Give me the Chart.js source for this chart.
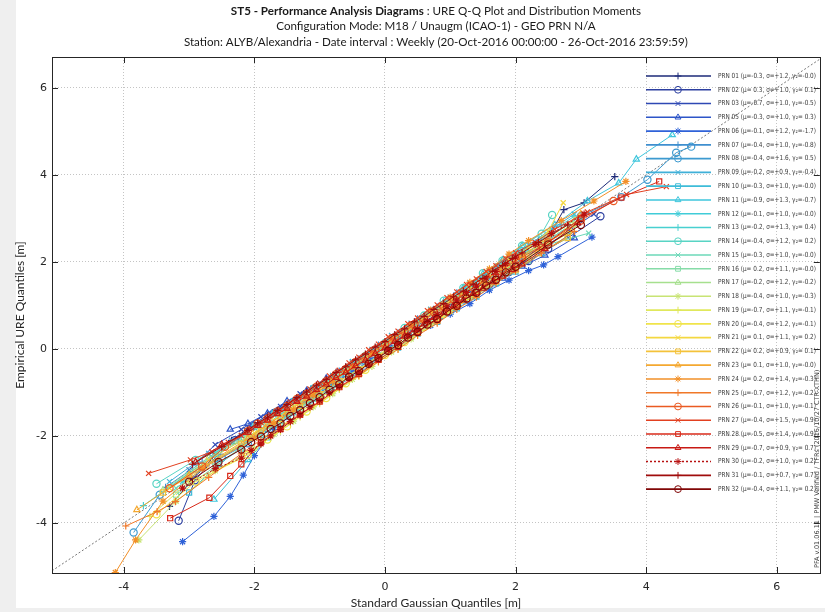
<!DOCTYPE html>
<html>
<head>
<meta charset="utf-8">
<title>URE Q-Q Plot</title>
<script src="https://cdn.jsdelivr.net/npm/chart.js@4.4.1/dist/chart.umd.min.js"></script>
<style>
    html, body { margin: 0; padding: 0; background: #ffffff; }
    #wrap { width: 825px; height: 612px; position: relative; }
</style>
</head>
<body>
<div id="wrap"><canvas id="qqChart" width="825" height="612"></canvas></div>
<script>
// Axis ranges and ticks
const xLimits = [-5.10, 6.66];
const yLimits = [-5.15, 6.71];
const xTickValues = [-4, -2, 0, 2, 4, 6];
const yTickValues = [-4, -2, 0, 2, 4, 6];

// Legend text: PRN number and distribution moments
const prnIds = ['01', '02', '03', '05', '06', '07', '08', '09', '10', '11', '12', '13', '14', '15', '16',
    '17', '18', '19', '20', '21', '22', '23', '24', '25', '26', '27', '28', '29', '30', '31', '32'];
const prnMu = ['-0.3', ' 0.3', '-0.7', '-0.3', '-0.1', '-0.4', '-0.4', '-0.2', '-0.3', '-0.9', '-0.1', '-0.2', '-0.4', '-0.3', ' 0.2',
    '-0.2', '-0.4', '-0.7', '-0.4', ' 0.1', ' 0.2', ' 0.1', ' 0.2', '-0.7', '-0.1', '-0.4', '-0.5', '-0.7', '-0.2', '-0.1', '-0.4'];
const prnSigma = ['+1.2', '+1.0', '+1.0', '+1.0', '+1.2', '+1.0', '+1.6', '+0.9', '+1.0', '+1.3', '+1.0', '+1.3', '+1.2', '+1.0', '+1.1',
    '+1.2', '+1.0', '+1.1', '+1.2', '+1.1', '+0.9', '+1.0', '+1.4', '+1.2', '+1.0', '+1.5', '+1.4', '+0.9', '+1.0', '+0.7', '+1.1'];
const prnGamma2 = ['-0.0', ' 0.1', '-0.5', ' 0.3', '-1.7', '-0.8', ' 0.5', '-0.4', '-0.0', '-0.7', '-0.0', ' 0.4', ' 0.2', '-0.0', '-0.0',
    '-0.2', '-0.3', '-0.1', '-0.1', ' 0.2', ' 0.1', '-0.0', '-0.3', '-0.2', '-0.1', '-0.9', '-0.9', ' 0.7', ' 0.2', ' 0.7', ' 0.2'];
const prnColors = ['#1c2a78', '#2c3fa0', '#2e48b4', '#2d55c8', '#2f62d8', '#3f8fcf', '#3d9ad0', '#3fb0d8', '#3ebcd8', '#3ec6dc',
    '#40ccd8', '#48d0d0', '#58d4c4', '#6cd8b8', '#86dca8', '#a6e08e', '#c8e474', '#e0e85c', '#f0e44a', '#f4d840', '#f4c23a',
    '#f4a830', '#f29028', '#f07828', '#ea5a22', '#e24020', '#d82a1a', '#c81a14', '#b81010', '#a00c0c', '#800606'];

// Theoretical (standard gaussian) quantiles of the central part, staggered sets
const gridA = [-2.1, -1.8, -1.5, -1.2, -0.9, -0.6, -0.3, 0, 0.3, 0.6, 0.9, 1.2, 1.5, 1.8, 2.1];
const gridB = [-2.0, -1.7, -1.4, -1.1, -0.8, -0.5, -0.2, 0.1, 0.4, 0.7, 1.0, 1.3, 1.6, 1.9, 2.2];
const gridC = [-2.2, -1.9, -1.6, -1.3, -1.0, -0.7, -0.4, -0.1, 0.2, 0.5, 0.8, 1.1, 1.4, 1.7, 2.0];
const gridD = [-2.1, -1.95, -1.8, -1.65, -1.5, -1.35, -1.2, -1.05, -0.9, -0.75, -0.6, -0.45, -0.3, -0.15, 0,
    0.15, 0.3, 0.45, 0.6, 0.75, 0.9, 1.05, 1.2, 1.35, 1.5, 1.65, 1.8, 1.95, 2.1];
const gridE = [-2.2, -2.05, -1.9, -1.75, -1.6, -1.45, -1.3, -1.15, -1.0, -0.85, -0.7, -0.55, -0.4, -0.25, -0.1,
    0.05, 0.2, 0.35, 0.5, 0.65, 0.8, 0.95, 1.1, 1.25, 1.4, 1.55, 1.7, 1.85, 2.0];

// Empirical quantiles per PRN: low tail [x, y], central y on its grid, high tail [x, y]
const prn01 = { grid: gridA, low: [[-3.3, -3.62], [-2.95, -3.0], [-2.6, -2.45], [-2.35, -2.1]],
    core: [-1.83, -1.52, -1.27, -0.96, -0.72, -0.42, -0.17, 0.13, 0.39, 0.68, 0.94, 1.23, 1.49, 1.79, 2.04],
    high: [[2.45, 2.42], [2.74, 3.2], [3.05, 3.36], [3.52, 3.96]] };
const prn02 = { grid: gridB, low: [[-3.16, -3.95], [-2.91, -3.02], [-2.6, -2.5], [-2.3, -2.1]],
    core: [-1.77, -1.47, -1.22, -0.93, -0.68, -0.39, -0.14, 0.15, 0.40, 0.69, 0.94, 1.23, 1.48, 1.77, 2.02],
    high: [[2.5, 2.3], [2.85, 2.6], [3.3, 3.05]] };
const prn03 = { grid: gridC, low: [[-3.0, -2.78], [-2.6, -2.2]],
    core: [-1.85, -1.56, -1.32, -1.03, -0.79, -0.51, -0.26, 0.02, 0.27, 0.55, 0.79, 1.08, 1.32, 1.61, 1.85],
    high: [[2.35, 2.25], [2.8, 2.7], [3.2, 3.1]] };
const prn05 = { grid: gridA, low: [[-2.37, -1.85]],
    core: [-1.72, -1.48, -1.20, -0.96, -0.68, -0.45, -0.17, 0.07, 0.35, 0.59, 0.86, 1.10, 1.38, 1.62, 1.90],
    high: [[2.45, 2.15], [2.9, 2.55]] };
const prn06 = { grid: gridB, low: [[-3.1, -4.43], [-2.62, -3.85], [-2.37, -3.39], [-2.17, -2.9]],
    core: [-2.45, -1.85, -1.45, -1.10, -0.82, -0.52, -0.24, 0.02, 0.28, 0.54, 0.80, 1.04, 1.35, 1.58, 1.80],
    high: [[2.43, 1.93], [2.65, 2.12], [3.17, 2.57]] };
const prn07 = { grid: gridC, low: [[-3.36, -3.18], [-2.8, -2.6], [-2.5, -2.3]],
    core: [-2.03, -1.70, -1.43, -1.11, -0.83, -0.51, -0.23, 0.09, 0.37, 0.69, 0.97, 1.29, 1.57, 1.89, 2.17],
    high: [[2.35, 2.5], [2.7, 2.85]] };
const prn08 = { grid: gridA, low: [[-3.85, -4.22], [-3.45, -3.35], [-2.9, -2.75], [-2.5, -2.5]],
    core: [-2.17, -1.83, -1.54, -1.20, -0.91, -0.57, -0.28, 0.06, 0.36, 0.69, 0.99, 1.32, 1.62, 1.95, 2.25],
    high: [[2.5, 2.6], [3.0, 3.05], [3.62, 3.49], [4.02, 3.89], [4.46, 4.51], [4.69, 4.65]] };
const prn09 = { grid: gridB, low: [[-3.3, -3.05], [-2.7, -2.4], [-2.35, -2.1]],
    core: [-1.81, -1.49, -1.21, -0.89, -0.61, -0.29, -0.01, 0.31, 0.59, 0.91, 1.19, 1.51, 1.79, 2.11, 2.39],
    high: [[2.55, 2.75], [2.9, 3.1]] };
const prn10 = { grid: gridC, low: [[-3.0, -3.3], [-2.55, -2.65]],
    core: [-2.29, -1.98, -1.71, -1.40, -1.13, -0.82, -0.55, -0.24, 0.03, 0.35, 0.62, 0.93, 1.20, 1.51, 1.78],
    high: [[2.4, 2.2], [2.8, 2.6]] };
const prn11 = { grid: gridA, low: [[-2.62, -3.46]],
    core: [-2.55, -2.05, -1.52, -1.19, -0.87, -0.55, -0.22, 0.10, 0.42, 0.75, 1.07, 1.40, 1.72, 2.04, 2.37],
    high: [[2.6, 2.85], [3.1, 3.4], [3.58, 3.81], [3.85, 4.36], [4.4, 4.92]] };
const prn12 = { grid: gridB, low: [[-3.1, -3.05], [-2.6, -2.4]],
    core: [-1.76, -1.46, -1.19, -0.89, -0.62, -0.32, -0.05, 0.26, 0.52, 0.83, 1.09, 1.40, 1.66, 1.97, 2.23],
    high: [[2.5, 2.5], [3.0, 3.0]] };
const prn13 = { grid: gridC, low: [[-3.7, -3.6], [-3.0, -2.85], [-2.6, -2.45]],
    core: [-2.11, -1.83, -1.50, -1.22, -0.89, -0.60, -0.28, 0.01, 0.33, 0.62, 0.95, 1.23, 1.56, 1.84, 2.17],
    high: [[2.4, 2.55], [2.9, 3.05]] };
const prn14 = { grid: gridA, low: [[-3.5, -3.1], [-2.9, -2.55]],
    core: [-2.05, -1.75, -1.42, -1.12, -0.79, -0.49, -0.16, 0.14, 0.48, 0.77, 1.11, 1.40, 1.74, 2.03, 2.37],
    high: [[2.4, 2.65], [2.56, 3.08]] };
const prn15 = { grid: gridB, low: [[-3.2, -3.2], [-2.55, -2.5]],
    core: [-2.05, -1.74, -1.47, -1.16, -0.89, -0.58, -0.30, 0.01, 0.28, 0.59, 0.86, 1.17, 1.44, 1.75, 2.02],
    high: [[2.5, 2.4], [3.12, 2.66]] };
const prn16 = { grid: gridC, low: [[-3.2, -3.35], [-2.6, -2.7]],
    core: [-2.26, -1.94, -1.66, -1.34, -1.06, -0.74, -0.46, -0.14, 0.14, 0.46, 0.74, 1.06, 1.34, 1.66, 1.94],
    high: [[2.4, 2.4], [2.85, 2.85]] };
const prn17 = { grid: gridA, low: [[-3.4, -3.25], [-2.7, -2.5]],
    core: [-1.97, -1.65, -1.38, -1.07, -0.79, -0.48, -0.20, 0.11, 0.38, 0.70, 0.97, 1.29, 1.56, 1.87, 2.15],
    high: [[2.45, 2.5], [2.9, 2.95]] };
const prn18 = { grid: gridB, low: [[-3.77, -4.39], [-3.2, -3.5], [-2.6, -2.8]],
    core: [-2.29, -1.96, -1.66, -1.33, -1.03, -0.70, -0.40, -0.07, 0.23, 0.57, 0.86, 1.20, 1.49, 1.83, 2.12],
    high: [[2.5, 2.45], [2.9, 2.85]] };
const prn19 = { grid: gridC, low: [[-3.6, -3.85], [-3.0, -3.05]],
    core: [-2.52, -2.19, -1.89, -1.56, -1.26, -0.93, -0.63, -0.30, 0.00, 0.34, 0.63, 0.97, 1.26, 1.60, 1.89],
    high: [[2.4, 2.3], [2.85, 2.7]] };
const prn20 = { grid: gridA, low: [[-3.5, -3.8], [-2.9, -3.05]],
    core: [-2.43, -2.08, -1.78, -1.44, -1.13, -0.79, -0.48, -0.14, 0.16, 0.51, 0.81, 1.16, 1.46, 1.80, 2.11],
    high: [[2.4, 2.4], [2.8, 2.7]] };
const prn21 = { grid: gridB, low: [[-3.3, -3.2], [-2.7, -2.55]],
    core: [-1.93, -1.64, -1.32, -1.03, -0.71, -0.42, -0.09, 0.21, 0.50, 0.82, 1.11, 1.44, 1.72, 2.05, 2.33],
    high: [[2.5, 2.7], [2.73, 3.36]] };
const prn22 = { grid: gridC, low: [[-3.4, -3.3], [-2.75, -2.7]],
    core: [-2.18, -1.88, -1.61, -1.31, -1.04, -0.74, -0.47, -0.17, 0.10, 0.41, 0.67, 0.98, 1.24, 1.55, 1.81],
    high: [[2.35, 2.2], [2.8, 2.55]] };
const prn23 = { grid: gridA, low: [[-3.8, -3.7], [-3.0, -2.9]],
    core: [-2.06, -1.74, -1.46, -1.14, -0.86, -0.54, -0.26, 0.06, 0.34, 0.66, 0.94, 1.26, 1.54, 1.86, 2.14],
    high: [[2.5, 2.55], [3.0, 3.1]] };
const prn24 = { grid: gridB, low: [[-4.13, -5.14], [-3.82, -4.39], [-3.4, -3.5], [-2.8, -2.75]],
    core: [-2.05, -1.71, -1.40, -1.06, -0.75, -0.41, -0.11, 0.24, 0.54, 0.89, 1.19, 1.53, 1.84, 2.18, 2.49],
    high: [[2.7, 2.95], [3.2, 3.4], [3.69, 3.85]] };
const prn25 = { grid: gridC, low: [[-3.97, -4.07], [-3.49, -3.74], [-3.21, -3.51], [-2.7, -2.95]],
    core: [-2.41, -2.09, -1.81, -1.49, -1.21, -0.89, -0.61, -0.29, -0.01, 0.31, 0.59, 0.91, 1.19, 1.51, 1.79],
    high: [[2.4, 2.2], [2.9, 2.7]] };
const prn26 = { grid: gridD, low: [[-3.3, -3.2], [-2.8, -2.7], [-2.45, -2.25]],
    core: [-1.89, -1.72, -1.60, -1.44, -1.31, -1.15, -1.03, -0.87, -0.74, -0.58, -0.46, -0.30, -0.17, -0.01, 0.11,
        0.27, 0.40, 0.56, 0.68, 0.84, 0.97, 1.13, 1.25, 1.41, 1.54, 1.70, 1.82, 1.98, 2.11],
    high: [[2.5, 2.45], [3.0, 2.95], [3.5, 3.4]] };
const prn27 = { grid: gridE, low: [[-3.62, -2.86], [-2.98, -2.55], [-2.65, -2.36], [-2.4, -2.15]],
    core: [-1.99, -1.82, -1.69, -1.52, -1.39, -1.22, -1.09, -0.92, -0.79, -0.62, -0.49, -0.32, -0.19, -0.02, 0.11,
        0.28, 0.41, 0.58, 0.71, 0.88, 1.01, 1.18, 1.31, 1.48, 1.61, 1.78, 1.91, 2.08, 2.21],
    high: [[2.3, 2.45], [2.6, 2.75], [3.1, 3.15], [3.7, 3.55], [4.31, 3.73]] };
const prn28 = { grid: gridC, low: [[-3.29, -3.89], [-2.69, -3.42], [-2.37, -2.92]],
    core: [-2.65, -2.15, -1.84, -1.51, -1.21, -0.88, -0.58, -0.25, 0.05, 0.39, 0.68, 1.02, 1.31, 1.65, 1.94],
    high: [[2.4, 2.35], [3.0, 3.0], [3.62, 3.48], [4.2, 3.85]] };
const prn29 = { grid: gridD, low: [[-2.9, -2.6], [-2.5, -2.2]],
    core: [-1.92, -1.76, -1.64, -1.49, -1.37, -1.21, -1.09, -0.94, -0.81, -0.66, -0.54, -0.39, -0.26, -0.11, 0.02,
        0.17, 0.29, 0.44, 0.57, 0.72, 0.84, 0.99, 1.12, 1.27, 1.39, 1.54, 1.67, 1.82, 1.95],
    high: [[2.45, 2.3], [2.95, 2.9]] };
const prn30 = { grid: gridE, low: [[-3.1, -3.2], [-2.6, -2.75]],
    core: [-2.51, -2.33, -2.18, -2.00, -1.85, -1.67, -1.52, -1.34, -1.19, -1.01, -0.86, -0.68, -0.53, -0.35, -0.20,
        -0.02, 0.13, 0.31, 0.46, 0.64, 0.79, 0.97, 1.12, 1.30, 1.45, 1.63, 1.78, 1.96, 2.11],
    high: [[2.3, 2.4], [2.55, 2.65], [3.05, 3.1]] };
const prn31 = { grid: gridD, low: [[-2.95, -2.65], [-2.5, -2.25]],
    core: [-1.87, -1.70, -1.57, -1.41, -1.28, -1.12, -0.99, -0.83, -0.70, -0.54, -0.41, -0.25, -0.12, 0.04, 0.17,
        0.33, 0.46, 0.62, 0.75, 0.91, 1.04, 1.20, 1.33, 1.49, 1.62, 1.79, 1.92, 2.08, 2.21],
    high: [[2.35, 2.45], [2.8, 2.85]] };
const prn32 = { grid: gridE, low: [[-3.0, -3.05], [-2.55, -2.6]],
    core: [-2.31, -2.14, -2.01, -1.84, -1.71, -1.54, -1.41, -1.24, -1.11, -0.94, -0.81, -0.64, -0.51, -0.34, -0.21,
        -0.04, 0.09, 0.26, 0.39, 0.56, 0.69, 0.86, 0.99, 1.16, 1.29, 1.46, 1.59, 1.76, 1.89],
    high: [[2.5, 2.4], [3.0, 2.85]] };

const prnSeries = [prn01, prn02, prn03, prn05, prn06, prn07, prn08, prn09, prn10, prn11, prn12, prn13, prn14, prn15, prn16,
    prn17, prn18, prn19, prn20, prn21, prn22, prn23, prn24, prn25, prn26, prn27, prn28, prn29, prn30, prn31, prn32];

// Matlab marker cycle: + o x square triangle *
const markerCycle = ['cross', 'circle', 'crossRot', 'rect', 'triangle', 'star'];

const TEXT_FONT = 'Lato, "Open Sans", sans-serif';
const TICK_FONT = '"DejaVu Sans", sans-serif';

function markerFor(prnId) {
    return markerCycle[(parseInt(prnId, 10) - 1) % markerCycle.length];
}

function buildPoints(series) {
    const pts = [];
    series.low.forEach(([x, y]) => pts.push({ x, y }));
    series.core.forEach((y, k) => pts.push({ x: series.grid[k], y }));
    series.high.forEach(([x, y]) => pts.push({ x, y }));
    return pts;
}

const datasets = prnSeries.map((series, i) => ({
    label: 'PRN ' + prnIds[i],
    data: buildPoints(series),
    showLine: true,
    borderColor: prnColors[i],
    backgroundColor: 'rgba(0,0,0,0)',
    borderWidth: 1,
    borderDash: prnIds[i] === '30' ? [2, 2] : [],
    pointStyle: markerFor(prnIds[i]),
    pointRadius: 3.6,
    pointBorderWidth: 1.2,
    pointBorderColor: prnColors[i],
    pointBackgroundColor: 'rgba(0,0,0,0)',
    order: prnSeries.length - i
}));

// y = x reference line through the whole box
datasets.push({
    label: 'reference',
    data: [{ x: xLimits[0], y: xLimits[0] }, { x: yLimits[1], y: yLimits[1] }],
    showLine: true,
    borderColor: '#555555',
    borderWidth: 0.8,
    borderDash: [2, 2],
    pointRadius: 0,
    order: 100
});

// Page background with the grey frame strips of the screenshot
const backgroundPlugin = {
    id: 'pageBackground',
    beforeDraw(chart) {
        const { ctx, width, height } = chart;
        ctx.save();
        ctx.fillStyle = '#ffffff';
        ctx.fillRect(0, 0, width, height);
        ctx.fillStyle = '#efefef';
        ctx.fillRect(0, 0, 16, height);
        ctx.fillRect(0, height - 4, width, 4);
        ctx.restore();
    }
};

// Three-line header, first part of line one in bold
const headerPlugin = {
    id: 'header',
    afterDraw(chart) {
        const { ctx, chartArea } = chart;
        const cx = (chartArea.left + chartArea.right) / 2;
        const size = 11.6;
        ctx.save();
        ctx.fillStyle = '#1a1a1a';
        ctx.textBaseline = 'middle';
        ctx.textAlign = 'left';
        const boldPart = 'ST5 - Performance Analysis Diagrams';
        const normalPart = ' : URE Q-Q Plot and Distribution Moments';
        ctx.font = 'bold ' + size + 'px ' + TEXT_FONT;
        const wb = ctx.measureText(boldPart).width;
        ctx.font = size + 'px ' + TEXT_FONT;
        const wn = ctx.measureText(normalPart).width;
        const x0 = cx - (wb + wn) / 2;
        ctx.font = 'bold ' + size + 'px ' + TEXT_FONT;
        ctx.fillText(boldPart, x0, 11);
        ctx.font = size + 'px ' + TEXT_FONT;
        ctx.fillText(normalPart, x0 + wb, 11);
        ctx.textAlign = 'center';
        ctx.fillText('Configuration Mode: M18 / Unaugm (ICAO-1) - GEO PRN N/A', cx, 26);
        ctx.fillText('Station: ALYB/Alexandria - Date interval : Weekly (20-Oct-2016 00:00:00 - 26-Oct-2016 23:59:59)', cx, 42);
        ctx.restore();
    }
};

// Box with inward ticks on all four sides, like the Matlab axes
const boxPlugin = {
    id: 'axesBox',
    afterDatasetsDraw(chart) {
        const { ctx, chartArea: a, scales } = chart;
        ctx.save();
        ctx.strokeStyle = '#262626';
        ctx.lineWidth = 1;
        ctx.beginPath();
        xTickValues.forEach(v => {
            const px = Math.round(scales.x.getPixelForValue(v)) + 0.5;
            ctx.moveTo(px, a.bottom); ctx.lineTo(px, a.bottom - 6);
            ctx.moveTo(px, a.top); ctx.lineTo(px, a.top + 6);
        });
        yTickValues.forEach(v => {
            const py = Math.round(scales.y.getPixelForValue(v)) + 0.5;
            ctx.moveTo(a.left, py); ctx.lineTo(a.left + 6, py);
            ctx.moveTo(a.right, py); ctx.lineTo(a.right - 6, py);
        });
        ctx.stroke();
        ctx.strokeRect(Math.round(a.left) + 0.5, Math.round(a.top) + 0.5,
            Math.round(a.right - a.left), Math.round(a.bottom - a.top));
        ctx.restore();
    }
};

// Legend inside the axes, right side, transparent background
const legendPlugin = {
    id: 'prnLegend',
    afterDatasetsDraw(chart) {
        const ctx = chart.ctx;
        const top = 76, step = 13.77, textWidth = 98;
        ctx.save();
        ctx.textBaseline = 'middle';
        ctx.textAlign = 'left';
        ctx.font = '7px ' + TICK_FONT;
        prnIds.forEach((id, i) => {
            const y = top + i * step;
            ctx.strokeStyle = prnColors[i];
            ctx.lineWidth = 1.6;
            ctx.setLineDash(id === '30' ? [2, 2] : []);
            ctx.beginPath();
            ctx.moveTo(646, y);
            ctx.lineTo(711, y);
            ctx.stroke();
            ctx.setLineDash([]);
            ctx.lineWidth = 1;
            ctx.fillStyle = 'rgba(0,0,0,0)';
            Chart.helpers.drawPoint(ctx, { pointStyle: markerFor(id), radius: 3.4, rotation: 0, borderWidth: 1 }, 678, y);
            const label = 'PRN ' + id + ' (\u03bc=' + prnMu[i] + ', \u03c3=' + prnSigma[i] + ', \u03b3\u2082=' + prnGamma2[i] + ')';
            const w = ctx.measureText(label).width;
            ctx.save();
            ctx.translate(718, y);
            ctx.scale(textWidth / w, 1);
            ctx.fillStyle = '#3a3a3a';
            ctx.fillText(label, 0, 0);
            ctx.restore();
        });
        // software stamp along the right edge
        ctx.translate(817, 568);
        ctx.rotate(-Math.PI / 2);
        ctx.font = '6.5px ' + TICK_FONT;
        ctx.fillStyle = '#3a3a3a';
        ctx.fillText('PFA v.01.06.11 | PMW Verified / TFRs (2016/10/27 CTR-XTHN)', 0, 0);
        ctx.restore();
    }
};

new Chart(document.getElementById('qqChart'), {
    type: 'scatter',
    data: { datasets },
    options: {
        responsive: false,
        devicePixelRatio: 1,
        animation: false,
        layout: { padding: { top: 57, right: 2, bottom: 0, left: 0 } },
        plugins: {
            legend: { display: false },
            tooltip: { enabled: false },
            title: { display: false }
        },
        scales: {
            x: {
                type: 'linear',
                min: xLimits[0],
                max: xLimits[1],
                afterBuildTicks: scale => { scale.ticks = xTickValues.map(v => ({ value: v })); },
                afterFit: scale => { scale.height = 39; },
                grid: { color: '#c4c4c4', lineWidth: 1, drawTicks: false },
                border: { display: false, dash: [1, 2] },
                ticks: { color: '#262626', font: { family: TICK_FONT, size: 11 }, padding: 8, maxRotation: 0 },
                title: {
                    display: true,
                    text: 'Standard Gaussian Quantiles [m]',
                    color: '#262626',
                    font: { family: TEXT_FONT, size: 12 },
                    padding: { top: 0, bottom: 2 }
                }
            },
            y: {
                type: 'linear',
                min: yLimits[0],
                max: yLimits[1],
                afterBuildTicks: scale => { scale.ticks = yTickValues.map(v => ({ value: v })); },
                afterFit: scale => { scale.width = 52; },
                grid: { color: '#c4c4c4', lineWidth: 1, drawTicks: false },
                border: { display: false, dash: [1, 2] },
                ticks: { color: '#262626', font: { family: TICK_FONT, size: 11 }, padding: 5 },
                title: {
                    display: true,
                    text: 'Empirical URE Quantiles [m]',
                    color: '#262626',
                    font: { family: TEXT_FONT, size: 12 },
                    padding: { top: 13, bottom: 0 }
                }
            }
        }
    },
    plugins: [backgroundPlugin, boxPlugin, legendPlugin, headerPlugin]
});
</script>
</body>
</html>
